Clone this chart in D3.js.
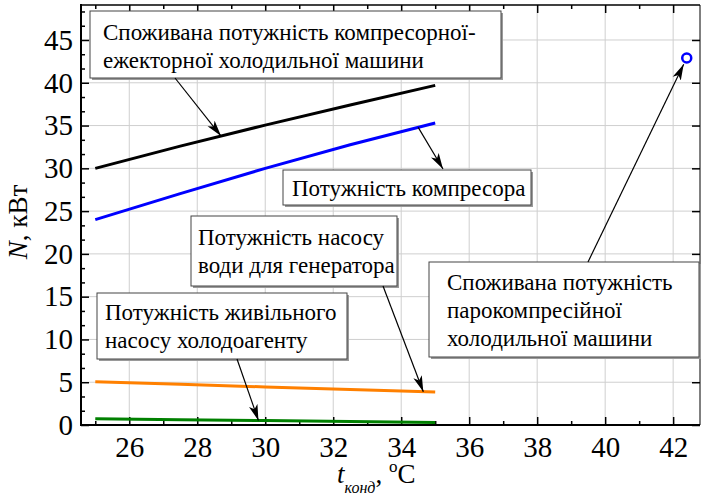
<!DOCTYPE html>
<html>
<head>
<meta charset="utf-8">
<script src="https://cdn.jsdelivr.net/npm/d3@7"></script>
<style>
  body { margin: 0; background: #fff; }
  text { font-family: "Liberation Serif", "Times New Roman", serif; fill: #000; }
</style>
</head>
<body>
<svg id="chart" width="701" height="494"></svg>
<script>
// condensing temperature, °C
const tCond = [25, 27.5, 30, 32.5, 35];
// power, kW
const nTotal = [30.0, 32.6, 35.05, 37.4, 39.7];   // compressor-ejector machine, total
const nComp = [24.0, 27.05, 30.0, 32.75, 35.3];   // compressor
const nGenPump = [5.05, 4.75, 4.45, 4.15, 3.85];  // generator water pump
const nFeedPump = [0.72, 0.62, 0.52, 0.42, 0.3];  // refrigerant feed pump
// vapour-compression machine
const tVapour = [42.4];
const nVapour = [42.9];

const xTicks = [26, 28, 30, 32, 34, 36, 38, 40, 42];
const yTicks = [0, 5, 10, 15, 20, 25, 30, 35, 40, 45];

const width = 701;
const height = 494;
const plotL = 81, plotR = 700, plotT = 5, plotB = 425;
const serif = '"Liberation Serif", "Times New Roman", serif';

const x = d3.scaleLinear().domain([24.58, 42.79]).range([plotL, plotR]);
const y = d3.scaleLinear().domain([0, 49.09]).range([plotB, plotT]);

const xMinor = d3.range(25, 43, 1).filter(v => v % 2 !== 0);
const yMinor = d3.range(0, 30).filter(k => k % 3 !== 0).map(k => k * 5 / 3);

const svg = d3.select("#chart").attr("font-family", serif);
svg.append("rect").attr("width", width).attr("height", height).attr("fill", "#fff");

// grid
svg.append("g")
  .selectAll("line")
  .data(xTicks)
  .join("line")
    .attr("x1", d => x(d)).attr("x2", d => x(d))
    .attr("y1", plotT).attr("y2", plotB)
    .attr("stroke", "#cfcfcf");
svg.append("g")
  .selectAll("line")
  .data(yTicks.filter(d => d > 0))
  .join("line")
    .attr("x1", plotL).attr("x2", plotR)
    .attr("y1", d => y(d)).attr("y2", d => y(d))
    .attr("stroke", "#cfcfcf");

// axes
function styleAxis(g, labels) {
  g.attr("font-family", serif).attr("font-size", 29);
  g.select(".domain").remove();
  g.selectAll(".tick line").attr("stroke", "#000").attr("stroke-width", 1.5);
  if (!labels) g.selectAll(".tick text").remove();
  else g.selectAll(".tick text")
    .attr("fill", "#000")
    .style("font-family", serif)
    .style("font-size", "29px");
}

svg.append("g")
  .attr("transform", `translate(0,${plotB})`)
  .call(d3.axisBottom(x).tickValues(xTicks).tickSizeInner(-8).tickSizeOuter(0).tickPadding(11.5))
  .call(g => styleAxis(g, true));
svg.append("g")
  .attr("transform", `translate(0,${plotB})`)
  .call(d3.axisBottom(x).tickValues(xMinor).tickSize(-4).tickFormat(""))
  .call(g => styleAxis(g, false));
svg.append("g")
  .attr("transform", `translate(0,${plotT})`)
  .call(d3.axisTop(x).tickValues(xTicks).tickSize(-8).tickFormat(""))
  .call(g => styleAxis(g, false));
svg.append("g")
  .attr("transform", `translate(0,${plotT})`)
  .call(d3.axisTop(x).tickValues(xMinor).tickSize(-4).tickFormat(""))
  .call(g => styleAxis(g, false));
svg.append("g")
  .attr("transform", `translate(${plotL},0)`)
  .call(d3.axisLeft(y).tickValues(yTicks).tickSizeInner(-8).tickSizeOuter(0).tickPadding(8))
  .call(g => styleAxis(g, true));
svg.append("g")
  .attr("transform", `translate(${plotL},0)`)
  .call(d3.axisLeft(y).tickValues(yMinor).tickSize(-4).tickFormat(""))
  .call(g => styleAxis(g, false));
svg.append("g")
  .attr("transform", `translate(${plotR},0)`)
  .call(d3.axisRight(y).tickValues(yTicks).tickSize(-8).tickFormat(""))
  .call(g => styleAxis(g, false));

// frame
svg.append("path")
  .attr("d", `M${plotL},${plotT}H${plotR}`)
  .attr("stroke", "#000").attr("stroke-width", 1.5);
svg.append("path")
  .attr("d", `M${plotR},${plotT}V${plotB}`)
  .attr("stroke", "#000").attr("stroke-width", 1);
svg.append("path")
  .attr("d", `M${plotL},${plotT - 1}V${plotB}H${plotR}`)
  .attr("fill", "none").attr("stroke", "#000").attr("stroke-width", 2);

// series
const line = d3.line().x(d => x(d[0])).y(d => y(d[1]));
const series = [
  { vals: nFeedPump, color: "#008000" },
  { vals: nGenPump, color: "#ff8000" },
  { vals: nComp, color: "#0000ff" },
  { vals: nTotal, color: "#000000" }
];
svg.append("g")
  .selectAll("path")
  .data(series)
  .join("path")
    .attr("d", s => line(d3.zip(tCond, s.vals)))
    .attr("fill", "none")
    .attr("stroke", s => s.color)
    .attr("stroke-width", 3);

svg.append("g")
  .selectAll("circle")
  .data(d3.zip(tVapour, nVapour))
  .join("circle")
    .attr("cx", d => x(d[0]))
    .attr("cy", d => y(d[1]))
    .attr("r", 4.5)
    .attr("fill", "#fff")
    .attr("stroke", "#0000ff")
    .attr("stroke-width", 2.5);

// annotations
const boxes = [
  { x: 90, y: 11, w: 411, h: 67, tx: 103, lines: ["Споживана потужність компресорної-", "ежекторної холодильної машини"], base: 40 },
  { x: 283, y: 170, w: 248, h: 35, tx: 292, lines: ["Потужність компресора"], base: 196 },
  { x: 191, y: 216, w: 206, h: 70, tx: 198, lines: ["Потужність насосу", "води для генератора"], base: 245 },
  { x: 97, y: 293, w: 250, h: 66, tx: 105, lines: ["Потужність живільного", "насосу холодоагенту"], base: 320 },
  { x: 429, y: 262, w: 270, h: 95, tx: 447, lines: ["Споживана потужність", "парокомпресійної", "холодильної машини"], base: 290 }
];
const lineGap = 28;

const ann = svg.append("g");
ann.selectAll("rect.shadow")
  .data(boxes)
  .join("rect")
    .attr("class", "shadow")
    .attr("x", b => b.x + 2).attr("y", b => b.y + 2)
    .attr("width", b => b.w).attr("height", b => b.h)
    .attr("fill", "#9a9a9a");
ann.selectAll("rect.box")
  .data(boxes)
  .join("rect")
    .attr("class", "box")
    .attr("x", b => b.x).attr("y", b => b.y)
    .attr("width", b => b.w).attr("height", b => b.h)
    .attr("fill", "#fff")
    .attr("stroke", "#444")
    .attr("stroke-width", 1);
ann.selectAll("text")
  .data(boxes)
  .join("text")
    .attr("font-size", 23)
    .each(function(b) {
      d3.select(this).selectAll("tspan")
        .data(b.lines)
        .join("tspan")
          .attr("x", b.tx)
          .attr("y", (l, i) => b.base + i * lineGap)
          .text(l => l);
    });

// arrows
svg.append("defs").append("marker")
  .attr("id", "head")
  .attr("viewBox", "0 -5 16 10")
  .attr("refX", 16).attr("refY", 0)
  .attr("markerWidth", 16).attr("markerHeight", 10)
  .attr("markerUnits", "userSpaceOnUse")
  .attr("orient", "auto")
  .append("path")
    .attr("d", "M0,-4.5L16,0L0,4.5L4,0Z")
    .attr("fill", "#000");

const onLine = (vals, t) => d3.scaleLinear().domain(tCond).range(vals)(t);
const cx = x(tVapour[0]), cy = y(nVapour[0]);
const ang = Math.atan2(262 - cy, 588 - cx);
const arrows = [
  [[175, 78], [x(28.7), y(onLine(nTotal, 28.7))]],
  [[x(34.5), y(onLine(nComp, 34.5))], [443, 169]],
  [[383, 286], [x(34.65), y(onLine(nGenPump, 34.65))]],
  [[237, 359], [x(29.8), y(onLine(nFeedPump, 29.8))]],
  [[588, 262], [cx + 7 * Math.cos(ang), cy + 7 * Math.sin(ang)]]
];
svg.append("g")
  .selectAll("line")
  .data(arrows)
  .join("line")
    .attr("x1", d => d[0][0]).attr("y1", d => d[0][1])
    .attr("x2", d => d[1][0]).attr("y2", d => d[1][1])
    .attr("stroke", "#000")
    .attr("stroke-width", 1.2)
    .attr("marker-end", "url(#head)");

// axis titles
svg.append("text")
  .attr("transform", "translate(27,222) rotate(-90)")
  .attr("text-anchor", "middle")
  .attr("font-size", 27)
  .call(t => {
    t.append("tspan").attr("font-style", "italic").text("N");
    t.append("tspan").text(", кВт");
  });

const xt = svg.append("text")
  .attr("x", 337)
  .attr("y", 483)
  .attr("font-size", 27);
xt.append("tspan").attr("font-style", "italic").text("t");
xt.append("tspan").attr("font-style", "italic").attr("font-size", 16).attr("dy", 10).text("конд");
xt.append("tspan").attr("dy", -10).text(", ");
xt.append("tspan").attr("font-size", 17).attr("dy", -11).text("o");
xt.append("tspan").attr("dy", 11).text("C");
</script>
</body>
</html>
